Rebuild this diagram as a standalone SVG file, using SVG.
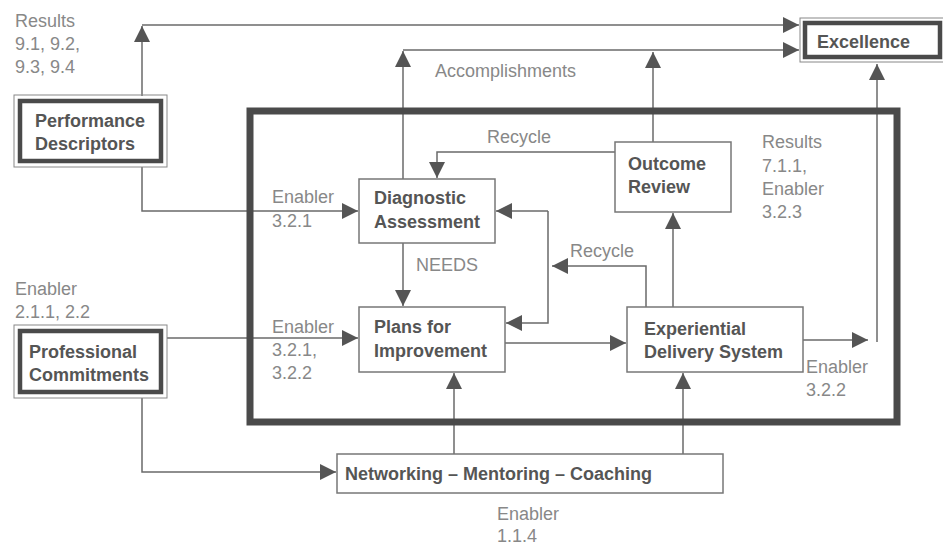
<svg xmlns="http://www.w3.org/2000/svg" width="943" height="547" viewBox="0 0 943 547">
<defs>
<style>
.bx{fill:#fff;stroke:#777;stroke-width:1.5}
.ob{fill:none;stroke:#888;stroke-width:1}
.ib{fill:#fff;stroke:#4a4a4a;stroke-width:4.5}
.t{font-family:"Liberation Sans",Arial,sans-serif;font-size:18px;font-weight:bold;fill:#555}
.l{font-family:"Liberation Sans",Arial,sans-serif;font-size:18px;fill:#888}
.c{fill:none;stroke:#6a6a6a;stroke-width:1.5}
</style>
<marker id="ah" markerUnits="userSpaceOnUse" markerWidth="17" markerHeight="17" refX="16" refY="8" orient="auto">
<path d="M0,0 L16,8 L0,16 Z" fill="#555"/>
</marker>
</defs>
<rect width="943" height="547" fill="#fff"/>

<g id="connectors">
<path class="c" d="M142,96 V26" marker-end="url(#ah)"/>
<path class="c" d="M142,25 H799" marker-end="url(#ah)"/>
<path class="c" d="M403,179 V51" marker-end="url(#ah)"/>
<path class="c" d="M403,50 H799" marker-end="url(#ah)"/>
<path class="c" d="M653,142 V52" marker-end="url(#ah)"/>
<path class="c" d="M877,342 V64" marker-end="url(#ah)"/>
<path class="c" d="M803,340 H868" marker-end="url(#ah)"/>
<path class="c" d="M615,152 H437 V178" marker-end="url(#ah)"/>
<path class="c" d="M142,167 V211 H358" marker-end="url(#ah)"/>
<path class="c" d="M167,338 H358" marker-end="url(#ah)"/>
<path class="c" d="M403,243 V306" marker-end="url(#ah)"/>
<path class="c" d="M505,343 H626" marker-end="url(#ah)"/>
<path class="c" d="M673,307 V213" marker-end="url(#ah)"/>
<path class="c" d="M646,307 V266 H552" marker-end="url(#ah)"/>
<path class="c" d="M548,211 H496" marker-end="url(#ah)"/>
<path class="c" d="M548,211 V323 H506" marker-end="url(#ah)"/>
<path class="c" d="M142,398 V472 H336" marker-end="url(#ah)"/>
<path class="c" d="M454,454 V373" marker-end="url(#ah)"/>
<path class="c" d="M683,454 V373" marker-end="url(#ah)"/>
</g>

<rect id="frame" x="250" y="111" width="647" height="311" fill="none" stroke="#4a4a4a" stroke-width="7"/>

<g id="results-9">
<text class="l" x="15" y="27">Results</text>
<text class="l" x="15" y="50">9.1, 9.2,</text>
<text class="l" x="15" y="73">9.3, 9.4</text>
</g>
<g id="performance-descriptors">
<rect class="ob" x="14" y="95" width="153" height="72"/>
<rect class="ib" x="20" y="101" width="141" height="60"/>
<text class="t" x="35" y="127">Performance</text>
<text class="t" x="35" y="150">Descriptors</text>
</g>
<g id="excellence">
<rect class="ob" x="800" y="18" width="145" height="44"/>
<rect class="ib" x="805" y="23" width="135" height="34"/>
<text class="t" x="817" y="48">Excellence</text>
</g>
<text class="l" x="435" y="77">Accomplishments</text>
<text class="l" x="487" y="143">Recycle</text>
<g id="outcome-review">
<rect class="bx" x="615" y="142" width="116" height="70"/>
<text class="t" x="628" y="170">Outcome</text>
<text class="t" x="628" y="193">Review</text>
</g>
<g id="results-7">
<text class="l" x="762" y="148">Results</text>
<text class="l" x="762" y="172">7.1.1,</text>
<text class="l" x="762" y="195">Enabler</text>
<text class="l" x="762" y="218">3.2.3</text>
</g>
<g id="enabler-321">
<text class="l" x="272" y="203">Enabler</text>
<text class="l" x="272" y="227">3.2.1</text>
</g>
<g id="diagnostic-assessment">
<rect class="bx" x="359" y="179" width="136" height="64"/>
<text class="t" x="374" y="204">Diagnostic</text>
<text class="t" x="374" y="228">Assessment</text>
</g>
<text class="l" x="416" y="271">NEEDS</text>
<text class="l" x="570" y="257">Recycle</text>
<g id="enabler-211">
<text class="l" x="15" y="295">Enabler</text>
<text class="l" x="15" y="318">2.1.1, 2.2</text>
</g>
<g id="professional-commitments">
<rect class="ob" x="14" y="325" width="153" height="73"/>
<rect class="ib" x="20" y="331" width="141" height="61"/>
<text class="t" x="29" y="358">Professional</text>
<text class="t" x="29" y="381">Commitments</text>
</g>
<g id="enabler-321-322">
<text class="l" x="272" y="333">Enabler</text>
<text class="l" x="272" y="356">3.2.1,</text>
<text class="l" x="272" y="379">3.2.2</text>
</g>
<g id="plans-for-improvement">
<rect class="bx" x="359" y="307" width="146" height="65"/>
<text class="t" x="374" y="333">Plans for</text>
<text class="t" x="374" y="357">Improvement</text>
</g>
<g id="experiential-delivery-system">
<rect class="bx" x="627" y="307" width="176" height="65"/>
<text class="t" x="644" y="335">Experiential</text>
<text class="t" x="644" y="358">Delivery System</text>
</g>
<g id="enabler-322">
<text class="l" x="806" y="373">Enabler</text>
<text class="l" x="806" y="396">3.2.2</text>
</g>
<g id="networking">
<rect class="bx" x="337" y="454" width="386" height="39"/>
<text class="t" x="345" y="480">Networking – Mentoring – Coaching</text>
</g>
<g id="enabler-114">
<text class="l" x="497" y="520">Enabler</text>
<text class="l" x="497" y="542">1.1.4</text>
</g>
</svg>
